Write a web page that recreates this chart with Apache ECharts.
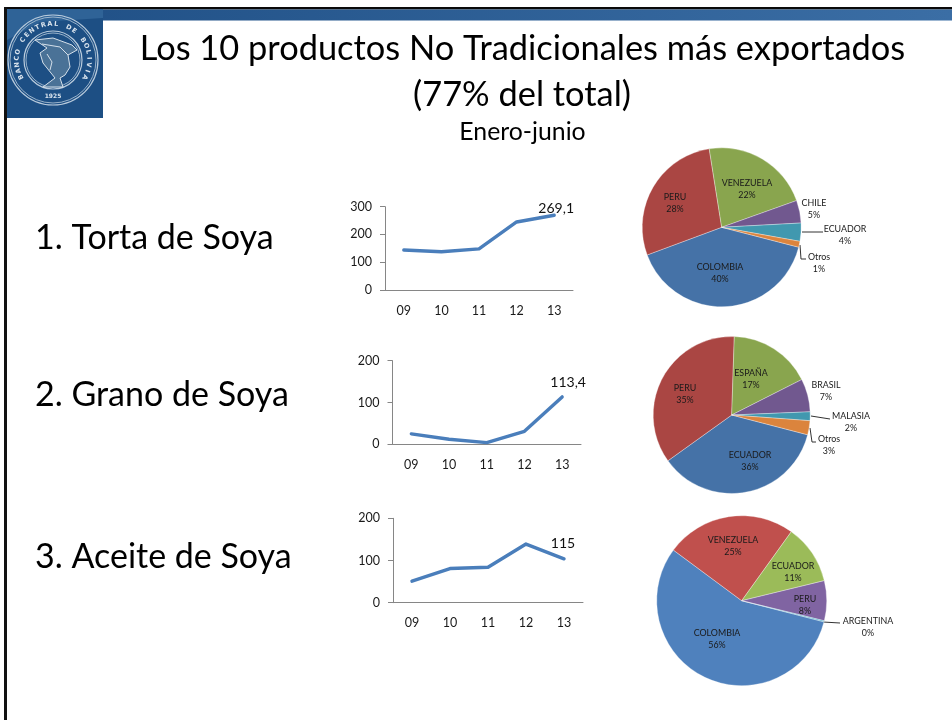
<!DOCTYPE html>
<html><head><meta charset="utf-8">
<style>html,body{margin:0;padding:0;background:#fff}#c{width:952px;height:720px}</style>
<script src="https://cdn.jsdelivr.net/npm/echarts@6/dist/echarts.min.js"></script>
</head><body><div id="c"></div>
<script>
// ---- data ----
const years = ['09','10','11','12','13'];
const tortaValues = [144,138,148,245,269.1];
const granoValues = [25,12,4,31,113.4];
const aceiteValues = [51,81,84,139,104];
const tortaEndLabel = '269,1';
const granoEndLabel = '113,4';
const aceiteEndLabel = '115';
const tortaCountries = ['COLOMBIA','PERU','VENEZUELA','CHILE','ECUADOR','Otros'];
const tortaShares = [40.4,28.2,22.1,4.6,3.7,1.2];
const granoCountries = ['ECUADOR','PERU','ESPAÑA','BRASIL','MALASIA','Otros'];
const granoShares = [36,35.4,17,6.8,1.8,2.9];
const aceiteCountries = ['COLOMBIA','VENEZUELA','ECUADOR','PERU','ARGENTINA'];
const aceiteShares = [56.2,24.8,11.3,7.6,0.2];
const titleLine1 = 'Los 10 productos No Tradicionales más exportados';
const titleLine2 = '(77% del total)';
const subtitle = 'Enero-junio';
const productNames = ['1. Torta de Soya','2. Grano de Soya','3. Aceite de Soya'];

// ---- layout & style ----
const FONT = 'Lato, "Open Sans", sans-serif';
const darkPalette = ['#4572a7','#aa4643','#89a54e','#71588f','#4198af','#db843d'];
const lightPalette = ['#4f81bd','#c0504d','#9bbb59','#8064a2','#4bacc6'];
const lineGrids = [
  {left:385,top:206.7,width:188,height:83.3,max:300,interval:100},
  {left:392.5,top:360.7,width:188.5,height:83.6,max:200,interval:100},
  {left:393,top:518.3,width:190,height:84.4,max:200,interval:100}
];
const lineSets = [
  {values:tortaValues,end:tortaEndLabel,offset:[2,3]},
  {values:granoValues,end:granoEndLabel,offset:[6,-5]},
  {values:aceiteValues,end:aceiteEndLabel,offset:[-1,-6]}
];
const pieSets = [
  {names:tortaCountries,vals:tortaShares,colors:darkPalette,center:[721.7,227.3],r:79.5,start:345.5,
   places:[[720,273],[675,203],[747,189],[814,209],[845,235],[819,263]],
   leaders:{4:[[802,232],[823,232]],5:[[800,245],[801,259],[806,259]]}},
  {names:granoCountries,vals:granoShares,colors:darkPalette,center:[731.7,415],r:78.5,start:345.4,
   places:[[750,461],[685,394],[751,379],[826,391],[851,422],[829,445]],
   leaders:{4:[[811,416],[830,419]],5:[[810,428],[812,442],[816,442]]}},
  {names:aceiteCountries,vals:aceiteShares,colors:lightPalette,center:[741.7,600.7],r:85,start:345.6,
   places:[[717,639],[733,546],[793,572],[805,605],[868,627]],
   leaders:{4:[[823,622],[840,623]]}}
];

const series = [], grid = [], xAxis = [], yAxis = [];
lineGrids.forEach((g,i)=>{
  grid.push({left:g.left,top:g.top,width:g.width,height:g.height});
  xAxis.push({gridIndex:i,type:'category',data:years,boundaryGap:true,
    axisLine:{lineStyle:{color:'#868686',width:1}},axisTick:{show:false},
    axisLabel:{color:'#1a1a1a',fontFamily:FONT,fontSize:12.5,margin:14}});
  yAxis.push({gridIndex:i,type:'value',min:0,max:g.max,interval:g.interval,
    axisLine:{show:true,lineStyle:{color:'#868686',width:1}},
    axisTick:{show:true,length:5,lineStyle:{color:'#868686'}},splitLine:{show:false},
    axisLabel:{color:'#1a1a1a',fontFamily:FONT,fontSize:12.5,margin:13}});
  const set = lineSets[i];
  series.push({type:'line',xAxisIndex:i,yAxisIndex:i,showSymbol:true,showAllSymbol:true,symbol:'none',smooth:false,
    lineStyle:{color:'#4a7ebb',width:3.4,cap:'round',join:'round'},itemStyle:{color:'#4a7ebb'},animation:false,
    data:set.values.map((v,k)=>k===set.values.length-1
      ?{value:v,symbol:'circle',symbolSize:1,label:{show:true,position:'top',distance:2,offset:set.offset,formatter:set.end,
         color:'#111',fontFamily:FONT,fontSize:14}}
      :v)});
});
pieSets.forEach(p=>{
  series.push({type:'pie',center:p.center,radius:[0,p.r],startAngle:p.start,clockwise:true,animation:false,
    avoidLabelOverlap:false,silent:true,
    itemStyle:{borderColor:'rgba(255,255,255,0.55)',borderWidth:0.6},
    data:p.names.map((n,k)=>({name:n,value:p.vals[k],itemStyle:{color:p.colors[k]},
      labelLine:{show:!!p.leaders[k],lineStyle:{color:'#333',width:1}}})),
    label:{show:true,position:'outside',color:'#1a1a1a',fontFamily:FONT,fontSize:8.9,lineHeight:12,align:'center',
      formatter:q=>q.name+'\n'+Math.round(q.percent)+'%'},
    labelLine:{show:false},
    labelLayout:q=>{const k=q.dataIndex;const o={x:p.places[k][0],y:p.places[k][1],align:'center',verticalAlign:'middle',hideOverlap:false};
      if(p.leaders[k])o.labelLinePoints=p.leaders[k];return o;}
  });
});

// logo (decorative seal)
const sealText = 'BANCO CENTRAL DE BOLIVIA';
const cx=53,cy=60;
const seal=[{type:'rect',shape:{x:7,y:9,width:96,height:109},style:{fill:'#1d4f84'},z:5},
 {type:'polygon',shape:{points:[[7,9],[103,9],[103,18],[40,22],[7,40]]},style:{fill:'#2f6397'},z:5}];
[45,43,29,27].forEach((r,i)=>seal.push({type:'circle',shape:{cx,cy,r},style:{fill:'none',stroke:'#b9cbdc',lineWidth:i%2?0.8:1.2},z:6}));
[...sealText].forEach((ch,i)=>{
  const a=(-118+i*(236/(sealText.length-1)))*Math.PI/180;
  seal.push({type:'text',x:cx+36*Math.sin(a),y:cy-36*Math.cos(a),rotation:-a,z:6,
    style:{text:ch,fill:'#dbe5ee',font:'bold 6.5px "DejaVu Sans"',align:'center',verticalAlign:'middle'}});
});
seal.push({type:'text',x:cx,y:96,z:6,style:{text:'1925',fill:'#dbe5ee',font:'bold 6px "DejaVu Sans"',align:'center',verticalAlign:'middle'}});
seal.push({type:'polygon',z:6,shape:{points:[[35,40],[53,38],[72,45],[77,50],[68,55],[70,67],[65,75],[60,78],[63,87],[43,87],[55,78],[43,63],[40,53],[47,48]]},
  style:{fill:'#4a7297',stroke:'#d5e0ea',lineWidth:1}});
seal.push({type:'polyline',z:6,shape:{points:[[42,44],[60,47],[68,55]]},style:{fill:'none',stroke:'#d5e0ea',lineWidth:1}});
seal.push({type:'polyline',z:6,shape:{points:[[47,54],[52,62],[50,70]]},style:{fill:'none',stroke:'#d5e0ea',lineWidth:1}});

const productRows=[238,395,557];
const graphic=[
 {type:'rect',shape:{x:4,y:7,width:948,height:2.5},style:{fill:'#0a0a0a'},z:4},
 {type:'rect',shape:{x:4,y:7,width:3,height:713},style:{fill:'#111'},z:4},
 {type:'rect',shape:{x:7,y:9.5,width:945,height:11},z:4,
  style:{fill:new echarts.graphic.LinearGradient(0,0,1,0,[{offset:0,color:'#1f4f85'},{offset:1,color:'#3b6ea5'}])}},
 ...seal,
 ...productNames.map((t,i)=>({type:'text',x:35,y:productRows[i],z:6,
   style:{text:t,fill:'#000',font:'34px '+FONT,align:'left',verticalAlign:'middle'}})),
];

const chart=echarts.init(document.getElementById('c'),null,{renderer:'canvas'});
chart.setOption({animation:false,backgroundColor:'#fff',
 title:[
  {text:titleLine1,left:517.5,top:27,textAlign:'center',textStyle:{fontFamily:FONT,fontWeight:'normal',fontSize:34.4,color:'#000'}},
  {text:titleLine2,left:517,top:73,textAlign:'center',textStyle:{fontFamily:FONT,fontWeight:'normal',fontSize:34.4,color:'#000'}},
  {text:subtitle,left:517.5,top:115,textAlign:'center',textStyle:{fontFamily:FONT,fontWeight:'normal',fontSize:24.8,color:'#000'}}
 ],
 grid,xAxis,yAxis,series,graphic});
</script></body></html>
